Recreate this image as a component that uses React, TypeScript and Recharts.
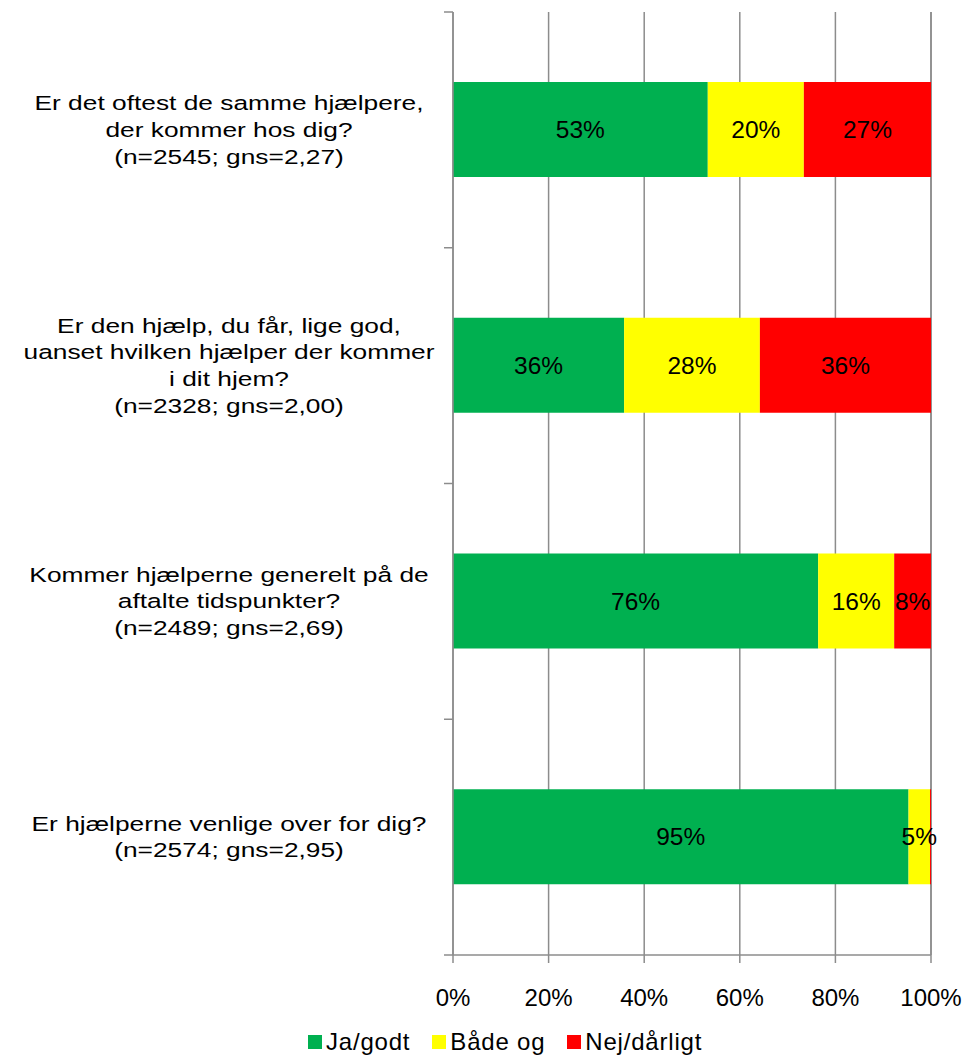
import React from 'react';
import { BarChart, Bar, XAxis, YAxis, CartesianGrid, Legend, LabelList } from 'recharts';

document.body.style.margin = '0';

const questions = [
  ['Er det oftest de samme hjælpere,', 'der kommer hos dig?', '(n=2545; gns=2,27)'],
  ['Er den hjælp, du får, lige god,', 'uanset hvilken hjælper der kommer', 'i dit hjem?', '(n=2328; gns=2,00)'],
  ['Kommer hjælperne generelt på de', 'aftalte tidspunkter?', '(n=2489; gns=2,69)'],
  ['Er hjælperne venlige over for dig?', '(n=2574; gns=2,95)'],
];
const jaGodt = [53.3, 35.8, 76.4, 95.3];
const baadeOg = [20.1, 28.4, 15.9, 4.5];
const nejDaarligt = [26.6, 35.8, 7.7, 0.2];
const xTicks = [0, 20, 40, 60, 80, 100];

const seriesInfo = [
  { key: 'ja', name: 'Ja/godt', color: '#00B050' },
  { key: 'begge', name: 'Både og', color: '#FFFF00' },
  { key: 'nej', name: 'Nej/dårligt', color: '#FF0000' },
];

const data = questions.map((q, i) => ({
  name: String(i),
  ja: jaGodt[i],
  begge: baadeOg[i],
  nej: nejDaarligt[i],
}));

const W = 969;
const H = 1058;
const PLOT_LEFT = 453;
const PLOT_TOP = 12;
const PLOT_BOTTOM = 955;
const BAND = (PLOT_BOTTOM - PLOT_TOP) / questions.length;
const GRAY = '#8c8c8c';
const FONT = 'Arial, "Liberation Sans", sans-serif';

// the question texts in the original are drawn wide, so stretch them sideways
const CategoryTick: React.FC<any> = ({ y, payload, index }) => {
  const lines = questions[Number(payload.value)];
  const lh = 26.7;
  const start = y - ((lines.length - 1) * lh) / 2;
  return (
    <g>
      <line x1={PLOT_LEFT - 9} x2={PLOT_LEFT} y1={y - BAND / 2} y2={y - BAND / 2} stroke={GRAY} strokeWidth={1.5} />
      {index === questions.length - 1 && (
        <line x1={PLOT_LEFT - 9} x2={PLOT_LEFT} y1={y + BAND / 2} y2={y + BAND / 2} stroke={GRAY} strokeWidth={1.5} />
      )}
      <text transform={`translate(229, ${start}) scale(1.35, 1)`} textAnchor="middle" fontSize={19.5} fontFamily={FONT} fill="#000">
        {lines.map((l, i) => (
          <tspan key={i} x={0} y={i * lh} dy="0.36em">
            {l}
          </tspan>
        ))}
      </text>
    </g>
  );
};

const LegendContent: React.FC<any> = () => (
  <div style={{ display: 'flex', alignItems: 'center', fontFamily: FONT, fontSize: 24, letterSpacing: 0.8, color: '#000' }}>
    {seriesInfo.map((s) => (
      <div key={s.key} style={{ display: 'flex', alignItems: 'center', marginRight: 22 }}>
        <span style={{ display: 'inline-block', width: 14, height: 14, background: s.color, marginRight: 4 }} />
        <span>{s.name}</span>
      </div>
    ))}
  </div>
);

const pct = (v: any) => (Number(v) < 1 ? '' : `${Math.round(Number(v))}%`);

export default function App() {
  return (
    <div style={{ width: W, height: H, background: '#fff' }}>
      <BarChart
        width={W}
        height={H}
        data={data}
        layout="vertical"
        margin={{ top: PLOT_TOP, right: W - 931, left: 0, bottom: 0 }}
      >
        <CartesianGrid horizontal={false} stroke={GRAY} strokeWidth={1.5} />
        <XAxis
          type="number"
          domain={[0, 100]}
          ticks={xTicks}
          tickFormatter={(v) => `${v}%`}
          height={H - PLOT_BOTTOM}
          stroke={GRAY}
          strokeWidth={1.5}
          tickSize={8}
          tickMargin={26}
          tick={{ fill: '#000', fontSize: 24, fontFamily: FONT }}
          interval={0}
        />
        <YAxis
          type="category"
          dataKey="name"
          width={PLOT_LEFT}
          tickLine={false}
          stroke={GRAY}
          strokeWidth={1.5}
          tick={<CategoryTick />}
          interval={0}
        />
        <Legend
          layout="horizontal"
          verticalAlign="middle"
          align="center"
          content={<LegendContent />}
          wrapperStyle={{ position: 'absolute', left: 308, top: 1028, width: 480 }}
        />
        {seriesInfo.map((s) => (
          <Bar key={s.key} dataKey={s.key} name={s.name} stackId="a" fill={s.color} barSize={95} isAnimationActive={false}>
            <LabelList dataKey={s.key} position="center" formatter={pct} fill="#000" fontSize={24.5} fontFamily={FONT} />
          </Bar>
        ))}
      </BarChart>
    </div>
  );
}
